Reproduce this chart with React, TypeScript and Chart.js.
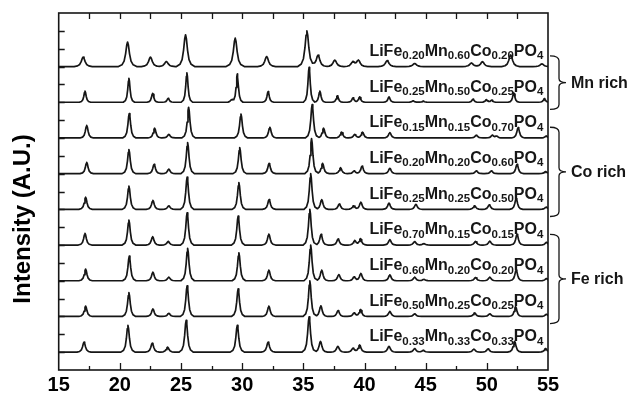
import React, { useEffect, useRef } from "react";
import { Chart, registerables } from "chart.js";

Chart.register(...registerables);

// ---- Data: [2θ position, relative intensity] ----
const FE = ["0.20", "0.25", "0.15", "0.20", "0.25", "0.70", "0.60", "0.50", "0.33"];
const MN = ["0.60", "0.50", "0.15", "0.20", "0.25", "0.15", "0.20", "0.25", "0.33"];
const CO = ["0.20", "0.25", "0.70", "0.60", "0.50", "0.15", "0.20", "0.25", "0.33"];

const ROW1 = [[17.0,0.53],[20.63,1.37],[22.5,0.53],[23.8,0.28],[25.37,1.78],[29.43,1.59],[32.0,0.56],[35.29,2.0],[36.2,0.64],[37.57,0.36],[39.05,0.26],[39.5,0.34],[41.85,0.33],[44.1,0.17],[48.74,0.2],[49.64,0.27],[51.95,0.65],[54.5,0.15]];
const ROW2 = [[17.15,0.62],[20.74,1.34],[22.68,0.5],[23.95,0.22],[25.48,1.65],[29.13,0.15],[29.6,1.59],[32.12,0.6],[35.47,1.96],[36.35,0.62],[37.78,0.36],[39.06,0.25],[39.6,0.3],[42.0,0.3],[43.97,0.08],[44.8,0.06],[48.87,0.17],[49.96,0.15],[50.4,0.12],[52.2,0.52],[54.7,0.2]];
const ROW3 = [[17.29,0.7],[20.77,1.37],[22.84,0.55],[24.0,0.2],[25.62,1.72],[29.9,1.34],[32.26,0.6],[35.72,1.87],[36.65,0.55],[38.12,0.33],[39.2,0.2],[39.84,0.32],[42.07,0.3],[49.14,0.15],[50.45,0.15],[50.8,0.1],[52.56,0.58],[54.85,0.1]];
const ROW4 = [[17.29,0.63],[20.74,1.35],[22.8,0.52],[24.0,0.25],[25.54,1.74],[29.8,1.46],[32.2,0.57],[35.67,1.96],[36.57,0.58],[38.04,0.33],[39.15,0.15],[39.8,0.42],[42.07,0.3],[49.14,0.15],[50.37,0.15],[52.47,0.52],[54.8,0.12]];
const ROW5 = [[17.2,0.68],[20.74,1.3],[22.7,0.5],[24.0,0.2],[25.5,1.8],[29.73,1.5],[32.2,0.55],[35.6,2.0],[36.5,0.55],[37.94,0.3],[39.1,0.2],[39.7,0.4],[42.0,0.35],[44.2,0.28],[49.0,0.2],[50.2,0.25],[52.4,0.6],[54.85,0.12]];
const ROW6 = [[17.15,0.65],[20.74,1.4],[22.68,0.47],[23.95,0.2],[25.5,1.81],[29.67,1.62],[32.18,0.62],[35.53,2.0],[36.45,0.6],[37.84,0.34],[39.2,0.25],[39.67,0.35],[42.07,0.3],[44.1,0.2],[44.85,0.08],[49.07,0.2],[50.24,0.22],[52.47,0.6],[54.87,0.15]];
const ROW7 = [[17.2,0.65],[20.77,1.38],[22.7,0.48],[24.0,0.2],[25.54,1.82],[29.73,1.57],[32.18,0.6],[35.6,2.0],[36.5,0.6],[37.9,0.35],[39.15,0.22],[39.7,0.41],[42.07,0.33],[44.1,0.2],[44.85,0.08],[49.07,0.18],[50.24,0.2],[52.4,0.6],[54.87,0.12]];
const ROW8 = [[17.2,0.58],[20.74,1.33],[22.7,0.42],[24.0,0.18],[25.5,1.72],[29.67,1.54],[32.18,0.58],[35.53,2.0],[36.43,0.6],[37.84,0.33],[39.15,0.2],[39.67,0.38],[42.07,0.28],[44.1,0.15],[49.0,0.2],[50.24,0.15],[52.35,0.55],[54.87,0.12]];
const ROW9 = [[17.07,0.56],[20.66,1.5],[22.65,0.5],[23.9,0.28],[25.42,1.78],[29.6,1.5],[32.12,0.56],[35.47,1.98],[36.4,0.6],[37.82,0.33],[39.06,0.22],[39.6,0.4],[42.0,0.33],[44.1,0.2],[44.8,0.1],[48.94,0.17],[50.1,0.18],[52.27,0.6],[54.8,0.2]];

const ROWS = [ROW1, ROW2, ROW3, ROW4, ROW5, ROW6, ROW7, ROW8, ROW9];
const GROUPS = [
  { label: "Mn rich", first: 0, last: 1 },
  { label: "Co rich", first: 2, last: 4 },
  { label: "Fe rich", first: 5, last: 7 },
];
const X_TICKS = [15, 20, 25, 30, 35, 40, 45, 50, 55];

// ---- Style ----
const ROW_WIDTH = [1.35, 0.85, 1, 1, 1, 1, 1, 1, 1.05];
const PROFILE = [[-0.55,0],[-0.34,0.07],[-0.21,0.22],[-0.12,0.52],[-0.05,0.88],[0,1],[0.05,0.88],[0.12,0.52],[0.21,0.22],[0.34,0.07],[0.55,0]];
const FONT = '"Liberation Sans", Arial, sans-serif';
const INK = "#161616";

function prof(d: number) {
  const n = PROFILE.length;
  if (d <= PROFILE[0][0] || d >= PROFILE[n - 1][0]) return 0;
  for (let i = 0; i < n - 1; i++) {
    const [x0, y0] = PROFILE[i];
    const [x1, y1] = PROFILE[i + 1];
    if (d >= x0 && d <= x1) return y0 + ((d - x0) / (x1 - x0)) * (y1 - y0);
  }
  return 0;
}

function baseOf(i: number) {
  return (ROWS.length - 1 - i) * 2 + 1;
}

function buildRow(peaks: number[][], base: number, w: number) {
  const xs = new Set<number>([15, 55]);
  peaks.forEach(([p]) =>
    PROFILE.forEach(([dx]) => {
      const v = +(p + dx * w).toFixed(4);
      if (v > 15 && v < 55) xs.add(v);
    })
  );
  return [...xs]
    .sort((a, b) => a - b)
    .map((xv) => ({
      x: xv,
      y: base + peaks.reduce((s, [p, h]) => s + h * prof((xv - p) / w), 0),
    }));
}

const decor = {
  id: "decor",
  afterDraw(chart: any) {
    const { ctx, chartArea, scales } = chart;
    const { left, right, top, bottom } = chartArea;
    const x = scales.x;
    const y = scales.y;
    ctx.save();
    ctx.strokeStyle = INK;
    ctx.fillStyle = INK;
    ctx.lineWidth = 1.6;
    ctx.strokeRect(left, top, right - left, bottom - top);

    ctx.lineWidth = 1.3;
    ctx.beginPath();
    for (let v = 17.5; v < 55; v += 2.5) {
      const px = Math.round(x.getPixelForValue(v)) + 0.5;
      const major = v % 5 === 0;
      ctx.moveTo(px, bottom);
      ctx.lineTo(px, bottom - (major ? 7 : 4));
      ctx.moveTo(px, top);
      ctx.lineTo(px, top + 6);
    }
    for (let v = 1; v < 20; v++) {
      const py = Math.round(y.getPixelForValue(v)) + 0.5;
      ctx.moveTo(left, py);
      ctx.lineTo(left + 6, py);
    }
    ctx.stroke();

    // formula labels
    const big = `bold 16px ${FONT}`;
    const sub = `bold 11.5px ${FONT}`;
    ROWS.forEach((_, i) => {
      const parts: [string, boolean][] = [
        ["LiFe", false], [FE[i], true], ["Mn", false], [MN[i], true],
        ["Co", false], [CO[i], true], ["PO", false], ["4", true],
      ];
      let px = x.getPixelForValue(40.4);
      const py = y.getPixelForValue(baseOf(i) + 0.6);
      ctx.textBaseline = "alphabetic";
      ctx.textAlign = "left";
      parts.forEach(([t, s]) => {
        ctx.font = s ? sub : big;
        ctx.fillText(t, px, s ? py + 3.5 : py);
        px += ctx.measureText(t).width;
      });
    });

    // brackets
    ctx.lineWidth = 1.3;
    GROUPS.forEach((g) => {
      const t = y.getPixelForValue(baseOf(g.first) + 0.6);
      const b = y.getPixelForValue(baseOf(g.last) - 0.4);
      const m = (t + b) / 2;
      const bx = right + 11;
      const x0 = right + 2;
      ctx.beginPath();
      ctx.moveTo(x0, t);
      ctx.quadraticCurveTo(bx, t, bx, t + 5);
      ctx.lineTo(bx, m - 4);
      ctx.quadraticCurveTo(bx, m, bx + 7, m);
      ctx.quadraticCurveTo(bx, m, bx, m + 4);
      ctx.lineTo(bx, b - 5);
      ctx.quadraticCurveTo(bx, b, x0, b);
      ctx.stroke();
      ctx.font = `bold 16px ${FONT}`;
      ctx.textBaseline = "middle";
      ctx.fillText(g.label, right + 23, m + 1);
    });

    // y title
    ctx.save();
    ctx.translate(30, 219);
    ctx.rotate(-Math.PI / 2);
    ctx.font = `bold 24px ${FONT}`;
    ctx.textAlign = "center";
    ctx.textBaseline = "alphabetic";
    ctx.fillStyle = "#000";
    ctx.fillText("Intensity (A.U.)", 0, 0);
    ctx.restore();

    ctx.restore();
  },
};

export default function App() {
  const ref = useRef<HTMLCanvasElement>(null);
  useEffect(() => {
    if (!ref.current) return;
    const chart = new Chart(ref.current, {
      type: "line",
      data: {
        datasets: ROWS.map((r, i) => ({
          data: buildRow(r, baseOf(i), ROW_WIDTH[i]),
          borderColor: INK,
          borderWidth: 1.7,
          pointRadius: 0,
          tension: 0,
          borderJoinStyle: "round" as const,
          fill: false,
        })),
      },
      options: {
        animation: false,
        responsive: false,
        events: [],
        layout: { padding: { left: 58.7, right: 83, top: 13, bottom: 0 } },
        plugins: { legend: { display: false }, tooltip: { enabled: false } },
        scales: {
          x: {
            type: "linear",
            min: 15,
            max: 55,
            afterBuildTicks: (s: any) => {
              s.ticks = X_TICKS.map((v) => ({ value: v }));
            },
            afterFit: (s: any) => {
              s.height = 29;
            },
            ticks: {
              font: { family: FONT, size: 20, weight: "bold" },
              color: "#000",
              padding: 3,
              maxRotation: 0,
            },
            grid: { display: false, drawTicks: false },
            border: { display: false },
          },
          y: { type: "linear", min: 0, max: 20, display: false },
        },
      },
      plugins: [decor],
    });
    return () => chart.destroy();
  }, []);
  return (
    <canvas
      ref={ref}
      width={631}
      height={399}
      style={{ position: "absolute", left: 0, top: 0, display: "block", background: "#fff" }}
    />
  );
}
